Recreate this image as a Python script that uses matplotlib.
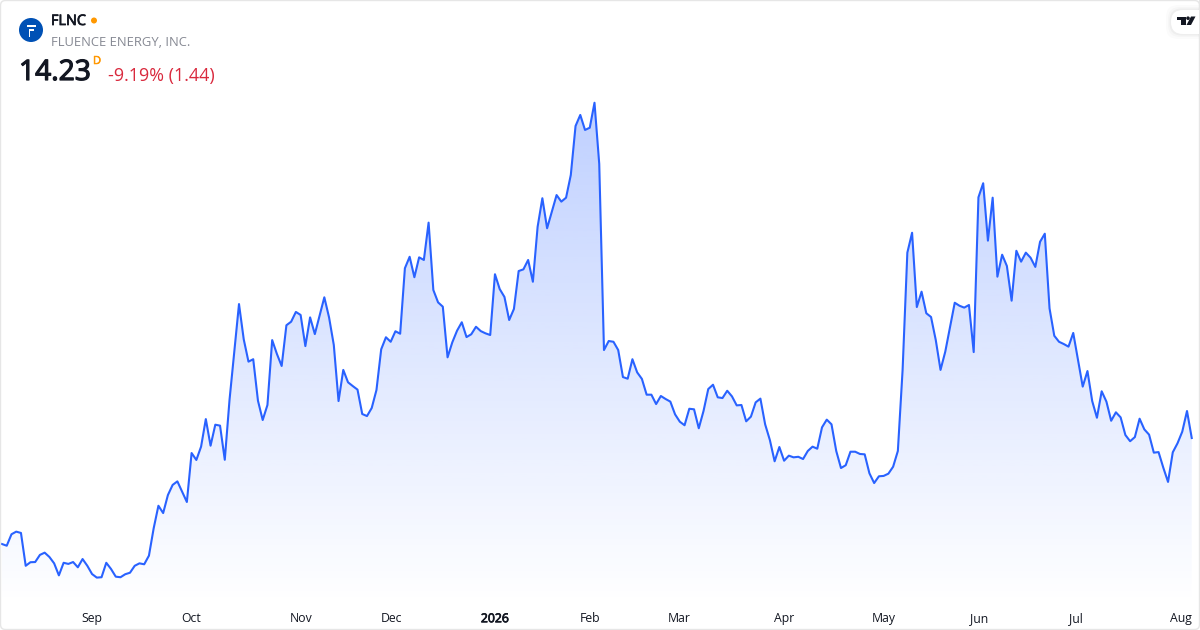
import numpy as np
import matplotlib
matplotlib.use("Agg")
import matplotlib.pyplot as plt
import matplotlib.patheffects as pe
from matplotlib.patches import FancyBboxPatch, Circle, Rectangle, Polygon

symbol = "FLNC"
company = "FLUENCE ENERGY, INC."
last_price = "14.23"
change_text = "-9.19% (1.44)"
interval = "D"

closes = [
    8.58, 8.49, 9.10, 9.24, 9.17, 7.42, 7.61, 7.62, 8.00, 8.12, 7.89, 7.55, 6.91, 7.58, 7.52, 7.62,
    7.34, 7.78, 7.42, 6.98, 6.79, 6.81, 7.58, 7.25, 6.84, 6.81, 6.97, 7.05, 7.42, 7.55, 7.50, 7.96,
    9.42, 10.62, 10.23, 11.19, 11.73, 11.92, 11.37, 10.82, 13.43, 13.06, 13.77, 15.24, 13.82, 14.94,
    14.89, 13.07, 16.26, 18.83, 21.37, 19.49, 18.30, 18.43, 16.22, 15.19, 15.99, 19.45, 18.71, 18.07,
    20.24, 20.43, 20.95, 20.79, 19.13, 20.66, 19.77, 20.75, 21.73, 20.66, 19.19, 16.20, 17.86, 17.20,
    17.00, 16.81, 15.51, 15.40, 15.83, 16.79, 18.96, 19.60, 19.36, 19.92, 19.79, 23.28, 23.89, 22.80,
    23.86, 23.72, 25.71, 22.12, 21.46, 21.23, 18.53, 19.33, 19.95, 20.40, 19.61, 19.76, 20.16, 19.93,
    19.81, 19.72, 22.96, 22.17, 21.75, 20.52, 21.11, 23.13, 23.22, 23.72, 22.56, 25.49, 27.01, 25.41,
    26.29, 27.18, 26.83, 27.04, 28.25, 30.86, 31.45, 30.65, 30.77, 32.10, 28.84, 18.92, 19.40, 19.36,
    18.92, 17.48, 17.39, 18.43, 17.73, 17.38, 16.54, 16.54, 16.04, 16.47, 16.31, 16.17, 15.49, 15.10,
    14.91, 15.79, 15.76, 14.75, 15.67, 16.84, 17.07, 16.40, 16.36, 16.75, 16.45, 15.97, 15.99, 15.12,
    15.37, 16.13, 16.33, 14.96, 14.12, 12.99, 13.75, 13.02, 13.29, 13.20, 13.23, 13.11, 13.54, 13.77,
    13.66, 14.80, 15.21, 14.96, 13.54, 12.63, 12.78, 13.50, 13.50, 13.38, 13.36, 12.35, 11.83, 12.19,
    12.21, 12.33, 12.70, 13.54, 17.86, 24.11, 25.17, 21.21, 22.03, 20.88, 20.68, 19.45, 17.86, 18.83,
    20.13, 21.44, 21.28, 21.18, 21.32, 18.81, 27.06, 27.81, 24.75, 27.04, 22.83, 24.00, 23.40, 21.55,
    24.21, 23.63, 24.11, 23.84, 23.35, 24.69, 25.12, 21.14, 19.68, 19.36, 19.24, 19.10, 19.83, 18.39,
    16.97, 17.80, 16.20, 15.31, 16.72, 16.17, 15.15, 15.60, 15.33, 14.39, 14.06, 14.28, 15.26, 14.69,
    14.41, 13.45, 13.48, 12.65, 11.89, 13.47, 13.95, 14.57, 15.67, 14.23,
]
tick_positions = [19, 40, 63.2, 82.2, 104, 124, 142.9, 165, 186, 206.1, 226.6, 248.8]
tick_labels = ["Sep", "Oct", "Nov", "Dec", "2026", "Feb", "Mar", "Apr", "May", "Jun", "Jul", "Aug"]

plt.rcParams["font.family"] = ["Open Sans", "DejaVu Sans"]
W, H = 1200, 630
fig = plt.figure(figsize=(W / 100, H / 100), dpi=100, facecolor="white")

BOTTOM_PX = 605
ax = fig.add_axes([0, (H - BOTTOM_PX) / H, 1, BOTTOM_PX / H])
xs = np.arange(len(closes))
px_per_bar = 4.74
price_per_px = 0.0533
ax.set_xlim(-2 / px_per_bar, (W - 2) / px_per_bar)
ax.set_ylim((705 - BOTTOM_PX) * price_per_px, 705 * price_per_px)
for s in ax.spines.values():
    s.set_visible(False)
ax.patch.set_alpha(0)
ax.set_yticks([])
ax.set_xticks(tick_positions)
ax.set_xticklabels(tick_labels, fontsize=8.8, color="#131722")
ax.tick_params(axis="x", length=0, pad=5.2)


def embolden(artist, width):
    artist.set_path_effects([pe.withStroke(linewidth=width, foreground=artist.get_color())])


for lab in ax.get_xticklabels():
    if lab.get_text() == "2026":
        embolden(lab, 0.55)

# gradient area under the line
ymin, ymax = ax.get_ylim()
top = max(closes)
n = 256
alpha = np.linspace(0.30, 0.0, n)[:, None]
rgba = np.zeros((n, 1, 4))
rgba[..., 0] = 41 / 255
rgba[..., 1] = 98 / 255
rgba[..., 2] = 1.0
rgba[..., 3] = alpha
im = ax.imshow(rgba, extent=(0, len(closes) - 1, ymin, top), origin="upper",
               aspect="auto", interpolation="bilinear", zorder=1)
poly = ax.fill_between(xs, closes, ymin, facecolor="none", edgecolor="none")
clip = Polygon(poly.get_paths()[0].vertices, closed=True, transform=ax.transData)
im.set_clip_path(clip)
ax.set_xlim(-2 / px_per_bar, (W - 2) / px_per_bar)
ax.set_ylim(ymin, ymax)

ax.plot(xs, closes, color="#2962ff", lw=1.5, solid_joinstyle="round", zorder=2)

# chrome overlay in pixel coordinates
ov = fig.add_axes([0, 0, 1, 1], facecolor="none")
ov.set_xlim(0, W)
ov.set_ylim(H, 0)
ov.axis("off")
ov.add_patch(FancyBboxPatch((0.5, 0.5), W - 1, H - 1, boxstyle="round,pad=0,rounding_size=5",
                            fc="none", ec="#e6e6e6", lw=1.0))
ov.add_patch(Circle((31, 30), 12, fc="#0051b5", ec="none"))
ov.add_patch(Rectangle((26.5, 24.5), 9.5, 2, fc="white", ec="none"))
ov.add_patch(Rectangle((28.5, 29), 5.5, 1.8, fc="white", ec="none"))
ov.add_patch(Rectangle((28.5, 29), 1.8, 7.5, fc="white", ec="none"))

t = ov.text(51, 21.5, symbol, fontsize=10.4, color="#131722", va="center", ha="left")
embolden(t, 0.55)
ov.add_patch(Circle((94, 20.5), 3, fc="#ff9800", ec="none"))
ov.text(51, 42, company, fontsize=9.4, color="#868993", va="center", ha="left")
t = ov.text(19, 73, last_price, fontsize=20.3, color="#131722", va="center", ha="left")
embolden(t, 0.9)
t = ov.text(93, 61.5, interval, fontsize=8, color="#ff9800", va="center", ha="left")
embolden(t, 0.4)
ov.text(108, 76, change_text, fontsize=12.9, color="#d9293d", va="center", ha="left")

# logo badge
for grow, a in [(5, 0.015), (3, 0.02), (1.5, 0.03)]:
    ov.add_patch(FancyBboxPatch((1171 - grow, 10 - grow), 41 + 2 * grow, 24 + 2 * grow,
                                boxstyle="round,pad=0,rounding_size=12", fc="black", ec="none", alpha=a))
ov.add_patch(FancyBboxPatch((1171, 10), 41, 24, boxstyle="round,pad=0,rounding_size=12",
                            fc="white", ec="none"))
ov.add_patch(Rectangle((1199, 0), 1, 45, fc="#e6e6e6", ec="none", zorder=5))
ov.add_patch(Rectangle((1177, 16.5), 8.5, 3.2, fc="#131722", ec="none"))
ov.add_patch(Rectangle((1180.5, 16.5), 5, 8.5, fc="#131722", ec="none"))
ov.add_patch(Circle((1188, 18.2), 1.8, fc="#131722", ec="none"))
ov.add_patch(Polygon([(1191, 16.5), (1195.5, 16.5), (1191, 25), (1186.5, 25)], closed=True,
                     fc="#131722", ec="none"))

fig.savefig("out.png", dpi=100, facecolor="white")
